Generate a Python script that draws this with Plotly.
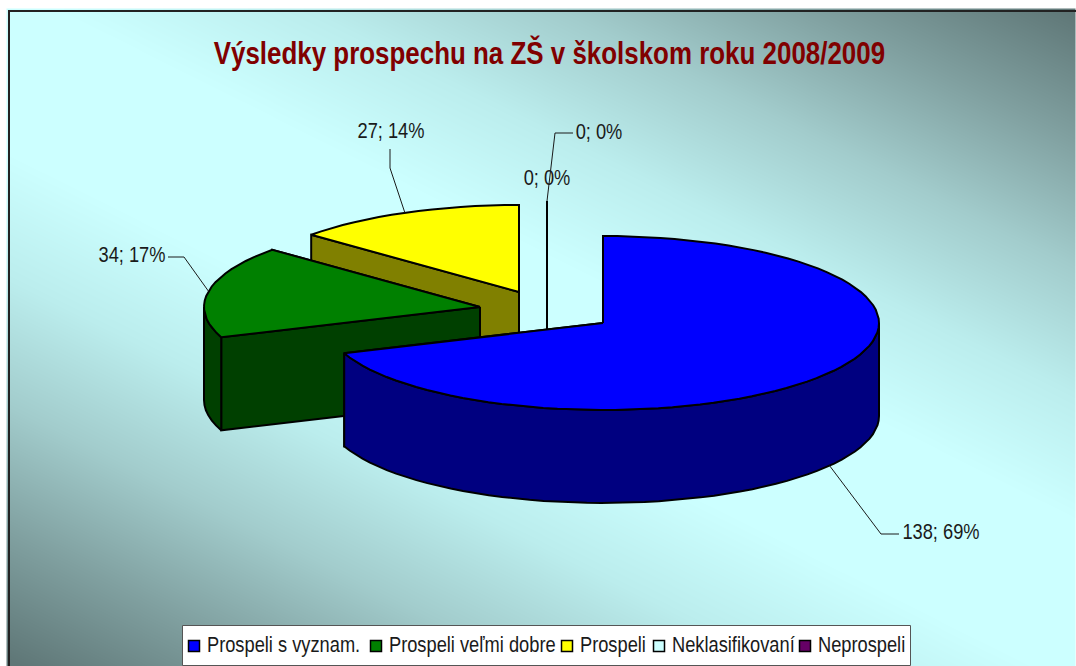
import numpy as np
import plotly.graph_objects as go

# ---- data ----
categories = ["Prospeli s vyznam.", "Prospeli veľmi dobre", "Prospeli", "Neklasifikovaní", "Neprospeli"]
values = [138, 34, 27, 0, 0]
top_colors = ["#0000FF", "#008000", "#FFFF00", "#CCFFFF", "#660066"]
side_colors = ["#000080", "#004000", "#808000", "#668080", "#330033"]
title_text = "Výsledky prospechu na ZŠ v školskom roku 2008/2009"

# ---- pie geometry (pixels in the hidden axes) ----
W, H = 1076, 666
RX, RY, DEPTH = 276, 87, 93
apex_x = [603, 480, 519, 547, 547]
apex_y = [323, 307, 292, 288, 288]
draw_order = [2, 1, 3, 4, 0]
label_xy = [(941, 533), (132, 256), (391, 132), (599, 133), (547, 179)]
elbows = [[(881, 534), (899, 534)], [(184, 257), (168, 257)], [(390, 168), (390, 149)],
          [(555, 133), (573, 133)], None]
legend_swatch_x = [194, 376, 567, 659, 805]
LEGEND_Y = 646
FONT = "Liberation Sans"
TXT = "#1a1a1a"

total = sum(values)
angles = [0.0]
for v in values:
    angles.append(angles[-1] + 360.0 * v / total)


def pt(i, deg, dy=0.0):
    r = np.radians(deg)
    return apex_x[i] + RX * np.sin(r), apex_y[i] - RY * np.cos(r) + dy


def arc(i, a0, a1, dy=0.0):
    n = max(1, int(abs(a1 - a0) / 3))
    deg = np.linspace(a0, a1, n + 1)
    xs, ys = pt(i, deg, dy)
    return list(xs), list(ys)


fig = go.Figure()

# background gradient: bands running from upper left to lower right
gx = np.linspace(9, W, 216)
gy = np.linspace(11, H, 132)
GX, GY = np.meshgrid(gx, gy)
fig.add_trace(go.Heatmap(
    x=gx, y=gy, z=np.abs(GY - 0.5 * GX - 65) / 590, zmin=0, zmax=1, zsmooth="best",
    showscale=False, hoverinfo="skip",
    colorscale=[[0, "#CCFFFF"], [0.14, "#CCFFFF"], [0.355, "#BBEDED"], [0.57, "#A2CCCC"],
                [0.785, "#80A0A0"], [1, "#5F7777"]],
))


def poly(xs, ys, color, name):
    fig.add_trace(go.Scatter(
        x=xs, y=ys, mode="lines", fill="toself", fillcolor=color, name=name,
        line=dict(color="black", width=2), showlegend=False, hoverinfo="skip",
    ))


for i in draw_order:
    a0, a1 = angles[i], angles[i + 1]
    c_side, c_top, name = side_colors[i], top_colors[i], categories[i]
    ax, ay = apex_x[i], apex_y[i]
    # cut faces
    for a in (a1, a0):
        x, y = pt(i, a)
        poly([ax, x, x, ax, ax], [ay, y, y + DEPTH, ay + DEPTH, ay], c_side, name)
    # outer wall, front half only
    lo, hi = max(a0, 90), min(a1, 270)
    if hi > lo:
        xt, yt = arc(i, lo, hi)
        xb, yb = arc(i, hi, lo, DEPTH)
        poly(xt + xb + xt[:1], yt + yb + yt[:1], c_side, name)
    # top
    xt, yt = arc(i, a0, a1)
    poly([ax] + xt + [ax], [ay] + yt + [ay], c_top, name)

# leader lines (start on the rim at each slice's mid angle)
for i, bend in enumerate(elbows):
    if not bend:
        continue
    mid = (angles[i] + angles[i + 1]) / 2
    x, y = pt(i, mid, DEPTH if 90 < mid < 270 else 0)
    fig.add_trace(go.Scatter(
        x=[x] + [p[0] for p in bend], y=[y] + [p[1] for p in bend], mode="lines",
        line=dict(color="#1a1a1a", width=1), showlegend=False, hoverinfo="skip",
    ))

# data labels
labels = [f"{v}; {round(100 * v / total)}%" for v in values]
fig.add_trace(go.Scatter(
    x=[p[0] for p in label_xy], y=[p[1] for p in label_xy], mode="text", text=labels,
    textposition="middle center", textfont=dict(family=FONT, size=22, color=TXT),
    showlegend=False, hoverinfo="skip",
))

# legend
fig.add_trace(go.Scatter(
    x=[182.5, 910.5, 910.5, 182.5, 182.5], y=[625.5, 625.5, 665.5, 665.5, 625.5], mode="lines",
    fill="toself", fillcolor="white", line=dict(color="#555555", width=1),
    showlegend=False, hoverinfo="skip",
))
for i, name in enumerate(categories):
    fig.add_trace(go.Scatter(
        x=[legend_swatch_x[i]], y=[LEGEND_Y], mode="markers+text", text=[" " + name],
        textposition="middle right", textfont=dict(family=FONT, size=22, color=TXT),
        marker=dict(symbol="square", size=11, color=top_colors[i], line=dict(color="black", width=1.5)),
        name=name, showlegend=False, hoverinfo="skip",
    ))

# chart frame
fig.add_shape(type="rect", x0=9, y0=11, x1=W + 3, y1=H + 3, line=dict(color="#222222", width=2), layer="above")

fig.add_annotation(x=549.5, y=53, text=title_text, showarrow=False,
                   font=dict(family=FONT, size=32, color="#800000", weight=700))

fig.update_layout(
    width=W, height=H, margin=dict(l=0, r=0, t=0, b=0), paper_bgcolor="white", plot_bgcolor="white",
    showlegend=False,
    xaxis=dict(range=[0, W], visible=False, fixedrange=True),
    yaxis=dict(range=[H, 0], visible=False, fixedrange=True),
)
# the reference's type is tall and condensed: squeeze every text horizontally
squeeze = """
document.body.style.margin='0';document.body.style.overflow='hidden';
document.querySelectorAll('svg text').forEach(function(t){
  var w=t.getComputedTextLength();
  var k=t.closest('.annotation')?0.81:0.83;
  if(w>0){t.setAttribute('textLength',w*k);t.setAttribute('lengthAdjust','spacingAndGlyphs');}
});
"""
fig.write_html("out.html", config=dict(displayModeBar=False), post_script=squeeze)
